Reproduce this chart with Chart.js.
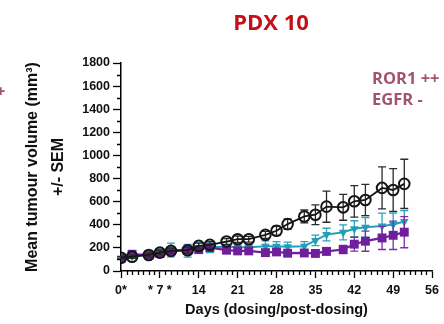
<!DOCTYPE html>
<html>
<head>
<meta charset="utf-8">
<script src="https://cdn.jsdelivr.net/npm/chart.js@4.4.0/dist/chart.umd.min.js"></script>
<style>
  html, body { margin: 0; padding: 0; background: #fff; }
</style>
</head>
<body>
<canvas id="pdxChart" width="444" height="324"></canvas>
<script>
// ================= DATA =================
const days = [0, 2, 5, 7, 9, 12, 14, 16, 19, 21, 23, 26, 28, 30, 33, 35, 37, 40, 42, 44, 47, 49, 51];

const vehicle    = [115, 124, 139, 159, 174, 180, 217, 226, 255, 275, 275, 313, 348, 406, 472, 487, 557, 551, 603, 615, 719, 701, 754];
const vehicleErr = [12, 15, 18, 20, 22, 25, 25, 28, 25, 28, 25, 30, 40, 45, 56, 85, 135, 112, 136, 135, 182, 185, 213];

const tealMean = [115, 125, 140, 158, 182, 175, 200, 205, 210, 205, 205, 215, 215, 210, 215, 265, 315, 335, 365, 378, 390, 402, 428];
const tealErr  = [10, 15, 15, 35, 60, 55, 45, 45, 45, 35, 30, 45, 40, 40, 40, 45, 55, 65, 70, 85, 110, 100, 95];

const purpleMean = [110, 145, 139, 151, 174, 180, 185, 203, 180, 174, 174, 159, 165, 154, 156, 152, 170, 186, 232, 258, 286, 309, 336];
const purpleErr  = [10, 15, 15, 15, 20, 20, 20, 25, 25, 25, 25, 25, 25, 25, 25, 25, 30, 35, 60, 87, 100, 123, 135];

const xTicks = [0, 7, 14, 21, 28, 35, 42, 49, 56];
const xTickLabels = ["0*", "* 7 *", "14", "21", "28", "35", "42", "49", "56"];

const toPoints = (vals) => vals.map((v, i) => ({ x: days[i], y: v }));

// ================= PLUGINS =================
// error bars drawn under each dataset's own markers
const errorBars = {
    id: "errorBars",
    beforeDatasetDraw(chart, args) {
        const ds = chart.data.datasets[args.index];
        if (!ds.errors) return;
        const xs = chart.scales.x, ys = chart.scales.y;
        const ctx = chart.ctx;
        ctx.save();
        ctx.strokeStyle = ds.errorColor;
        ctx.lineWidth = 1.3;
        ds.data.forEach((p, i) => {
            const e = ds.errors[i];
            const px = xs.getPixelForValue(p.x);
            const top = ys.getPixelForValue(p.y + e);
            const bot = ys.getPixelForValue(p.y - e);
            ctx.beginPath();
            ctx.moveTo(px, top); ctx.lineTo(px, bot);
            ctx.moveTo(px - 4, top); ctx.lineTo(px + 4, top);
            ctx.moveTo(px - 4, bot); ctx.lineTo(px + 4, bot);
            ctx.stroke();
        });
        ctx.restore();
    }
};

// minor ticks + title + side notes
const decorations = {
    id: "decorations",
    afterDraw(chart) {
        const ctx = chart.ctx;
        const xs = chart.scales.x, ys = chart.scales.y;
        const area = chart.chartArea;
        ctx.save();
        ctx.strokeStyle = "#000";
        ctx.lineWidth = 1.3;
        ctx.beginPath();
        for (let d = 1; d < 56; d++) {
            if (d % 7 === 0) continue;
            const px = Math.round(xs.getPixelForValue(d)) + 0.5;
            ctx.moveTo(px, area.bottom);
            ctx.lineTo(px, area.bottom + 4);
        }
        for (let v = 100; v < 1800; v += 200) {
            const py = Math.round(ys.getPixelForValue(v)) + 0.5;
            ctx.moveTo(area.left - 4, py);
            ctx.lineTo(area.left, py);
        }
        ctx.stroke();

        ctx.textBaseline = "middle";
        ctx.textAlign = "center";
        ctx.fillStyle = "#c0121b";
        ctx.font = "bold 22px 'Open Sans'";
        ctx.fillText("PDX 10", 271, 24);

        ctx.textAlign = "left";
        ctx.fillStyle = "#a3536f";
        ctx.font = "bold 16.5px 'Open Sans'";
        ctx.fillText("ROR1 ++", 372, 79);
        ctx.fillText("EGFR -", 372, 100);
        ctx.fillText("+", -4, 92);
        ctx.restore();
    }
};

// ================= CHART =================
const ctx = document.getElementById("pdxChart");
new Chart(ctx, {
    type: "line",
    data: {
        datasets: [
            {
                label: "Vehicle",
                data: toPoints(vehicle),
                errors: vehicleErr,
                errorColor: "#2b2b2b",
                borderColor: "#151515",
                backgroundColor: "rgba(0,0,0,0)",
                borderWidth: 1.8,
                pointStyle: "circle",
                pointRadius: 5.3,
                pointBorderWidth: 2,
                pointBorderColor: "#151515",
                pointBackgroundColor: "rgba(0,0,0,0)"
            },
            {
                label: "Purple",
                data: toPoints(purpleMean),
                errors: purpleErr,
                errorColor: "#7a2fa6",
                borderColor: "#6f1f9c",
                backgroundColor: "#6f1f9c",
                borderWidth: 2.2,
                pointStyle: "rect",
                pointRadius: 6.3,
                pointBorderWidth: 0,
                pointBackgroundColor: "#6f1f9c"
            },
            {
                label: "Teal",
                data: toPoints(tealMean),
                errors: tealErr,
                errorColor: "#2aa3bb",
                borderColor: "#229fb8",
                backgroundColor: "#229fb8",
                borderWidth: 2,
                pointStyle: "triangle",
                rotation: 180,
                pointRadius: 5,
                pointBorderWidth: 0,
                pointBackgroundColor: "#229fb8"
            }
        ]
    },
    options: {
        responsive: false,
        animation: false,
        layout: { padding: { top: 63, right: 11, left: 0, bottom: 0 } },
        plugins: {
            legend: { display: false },
            tooltip: { enabled: false }
        },
        scales: {
            x: {
                type: "linear",
                min: 0,
                max: 56,
                afterBuildTicks: (axis) => { axis.ticks = xTicks.map(v => ({ value: v })); },
                afterFit: (axis) => { axis.height = 53; },
                border: { display: true, color: "#000", width: 1.5 },
                grid: { drawOnChartArea: false, drawTicks: true, tickLength: 7, tickColor: "#000", tickWidth: 1.3 },
                ticks: {
                    color: "#111",
                    padding: 5,
                    maxRotation: 0,
                    autoSkip: false,
                    font: { family: "'Liberation Sans', Arial", size: 12.5, weight: "bold" },
                    callback: (v) => xTickLabels[xTicks.indexOf(v)]
                },
                title: {
                    display: true,
                    text: "Days (dosing/post-dosing)",
                    color: "#111",
                    padding: { top: 0, bottom: 5 },
                    font: { family: "'Liberation Sans', Arial", size: 14.5, weight: "bold" }
                }
            },
            y: {
                min: 0,
                max: 1800,
                ticks: {
                    stepSize: 200,
                    color: "#111",
                    padding: 3,
                    font: { family: "'Liberation Sans', Arial", size: 12.5, weight: "bold" },
                    callback: (v) => String(v)
                },
                afterFit: (axis) => { axis.width = 121; },
                border: { display: true, color: "#000", width: 1.5 },
                grid: { drawOnChartArea: false, drawTicks: true, tickLength: 8, tickColor: "#000", tickWidth: 1.3 },
                title: {
                    display: true,
                    text: ["Mean tumour volume (mm³)", "+/- SEM"],
                    color: "#111",
                    padding: { top: 20, bottom: 0 },
                    font: { family: "'Liberation Sans', Arial", size: 16, weight: "bold", lineHeight: 1.6 }
                }
            }
        }
    },
    plugins: [errorBars, decorations]
});
</script>
</body>
</html>
